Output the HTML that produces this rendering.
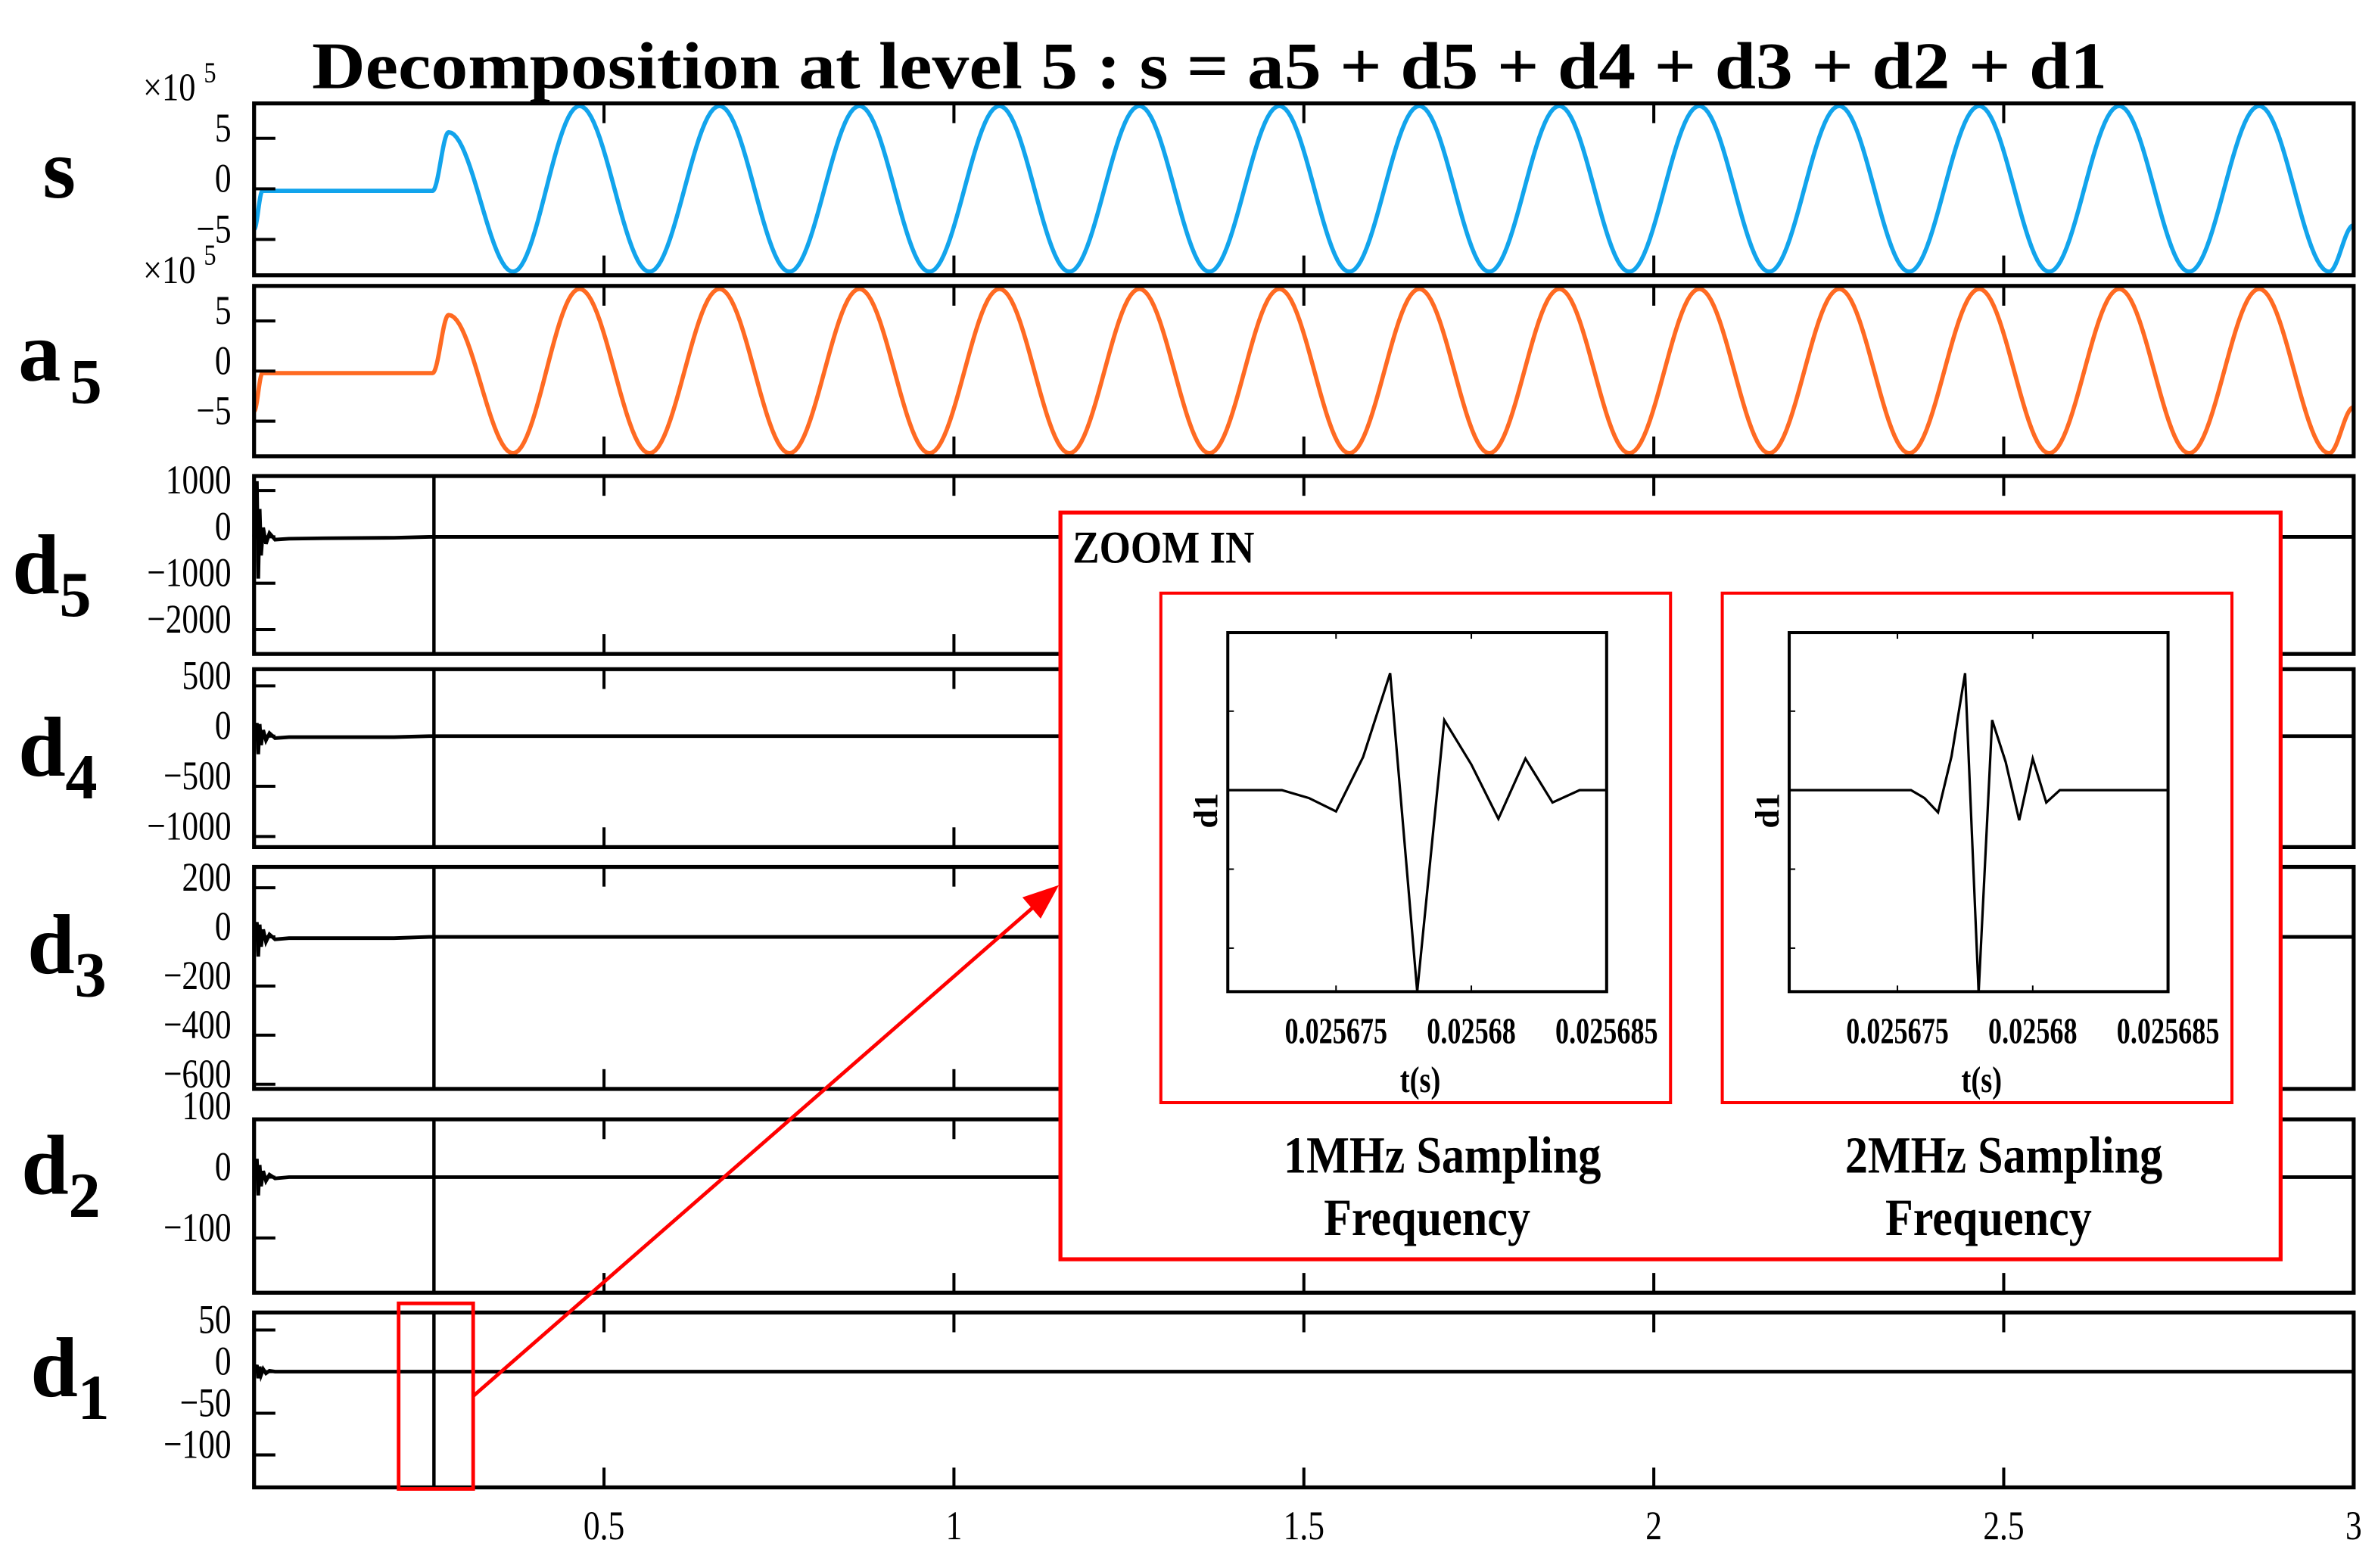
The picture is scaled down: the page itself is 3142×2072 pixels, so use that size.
<!DOCTYPE html>
<html><head><meta charset="utf-8"><style>
html,body{margin:0;padding:0;background:#fff;}
svg{display:block;}
text{font-family:"Liberation Serif",serif;}
</style></head><body>
<svg id="chart" xmlns="http://www.w3.org/2000/svg" width="3142" height="2072" viewBox="0 0 1563 1031" preserveAspectRatio="none">
<text x="205" y="58" font-family="Liberation Serif, serif" font-size="44" font-weight="bold" textLength="1180" lengthAdjust="spacingAndGlyphs">Decomposition at level 5 : s = a5 + d5 + d4 + d3 + d2 + d1</text>
<g id="panels"></g>
<g id="zoom"></g>
</svg>
<script>
// ---------- data ----------
const xTickVals = [0.5, 1, 1.5, 2, 2.5, 3];
const xTickLabels = ["0.5", "1", "1.5", "2", "2.5", "3"];
const sTimes = [0,0.012,0.255,0.278,0.37,0.465,0.565,0.665,0.765,0.865,0.965,1.065,1.165,1.265,1.365,1.465,1.565,1.665,1.765,1.865,1.965,2.065,2.165,2.265,2.365,2.465,2.565,2.665,2.765,2.865,2.965,3];
const sVals = [-4,-0.2,-0.2,5.6,-8.2,8.2,-8.2,8.2,-8.2,8.2,-8.2,8.2,-8.2,8.2,-8.2,8.2,-8.2,8.2,-8.2,8.2,-8.2,8.2,-8.2,8.2,-8.2,8.2,-8.2,8.2,-8.2,8.2,-8.2,-3.6];
const a5Times = [0,0.012,0.255,0.278,0.37,0.465,0.565,0.665,0.765,0.865,0.965,1.065,1.165,1.265,1.365,1.465,1.565,1.665,1.765,1.865,1.965,2.065,2.165,2.265,2.365,2.465,2.565,2.665,2.765,2.865,2.965,3];
const a5Vals = [-4,-0.2,-0.2,5.6,-8.2,8.2,-8.2,8.2,-8.2,8.2,-8.2,8.2,-8.2,8.2,-8.2,8.2,-8.2,8.2,-8.2,8.2,-8.2,8.2,-8.2,8.2,-8.2,8.2,-8.2,8.2,-8.2,8.2,-8.2,-3.6];
const sTicks = [5, 0, -5];
const d5Ticks = [1000, 0, -1000, -2000];
const d4Ticks = [500, 0, -500, -1000];
const d3Ticks = [200, 0, -200, -400, -600];
const d2Ticks = [100, 0, -100];
const d1Ticks = [50, 0, -50, -100];
const burstTimes = [0, 0.004, 0.006, 0.008, 0.010, 0.013, 0.017, 0.022, 0.03, 0.05, 0.1, 0.2, 0.25, 3];
const d5Burst = [0, 1200, -900, 600, -400, 200, -150, 80, -60, -40, -30, -20, 0, 0];
const d4Burst = [0, 130, -180, 120, -90, 60, -40, 30, -20, -10, -10, -10, 0, 0];
const d3Burst = [0, 60, -80, 50, -40, 30, -20, 10, -10, -5, -5, -5, 0, 0];
const d2Burst = [0, 30, -30, 20, -15, 10, -6, 4, -2, 0, 0, 0, 0, 0];
const d1Burst = [0, 8, -8, 6, -4, 3, -2, 1, 0, 0, 0, 0, 0, 0];
const faultTime = 0.257;
// zoom-in insets
const z1Times = [0.025671, 0.025673, 0.025674, 0.025675, 0.025676, 0.025677, 0.025678, 0.025679, 0.02568, 0.025681, 0.025682, 0.025683, 0.025684, 0.025685];
const z1Vals = [0, 0, -16, -43, 67, 237, -408, 142, 52, -58, 64, -25, 0, 0];
const z2Times = [0.025671, 0.0256755, 0.025676, 0.0256765, 0.025677, 0.0256775, 0.025678, 0.0256785, 0.025679, 0.0256795, 0.02568, 0.0256805, 0.025681, 0.025685];
const z2Vals = [0, 0, -16, -45, 69, 237, -410, 142, 57, -61, 64, -25, 0, 0];
const zTickVals = [0.025675, 0.02568, 0.025685];
const zTickLabels = ["0.025675", "0.02568", "0.025685"];
const zYTicks = [160, -160, -320];

// ---------- helpers ----------
const NS = "http://www.w3.org/2000/svg";
function mk(tag, attrs, parent) {
  const e = document.createElementNS(NS, tag);
  for (const k in attrs) e.setAttribute(k, attrs[k]);
  parent.appendChild(e);
  return e;
}
const X0 = 167, X1 = 1547;
const xScale = t => X0 + (t / 3) * (X1 - X0);
const panelsG = document.getElementById("panels");

function yScaleOf(p) { return v => p.top + (p.dmax - v) / (p.dmax - p.dmin) * (p.bot - p.top); }

function easedPath(times, vals, ys) {
  let d = "M" + xScale(times[0]).toFixed(2) + "," + ys(vals[0]).toFixed(2);
  for (let i = 0; i < times.length - 1; i++) {
    const n = 24;
    for (let k = 1; k <= n; k++) {
      const u = k / n;
      const t = times[i] + (times[i + 1] - times[i]) * u;
      const w = (1 - Math.cos(Math.PI * u)) / 2;
      const v = vals[i] + (vals[i + 1] - vals[i]) * w;
      d += "L" + xScale(t).toFixed(2) + "," + ys(v).toFixed(2);
    }
  }
  return d;
}
function linePath(times, vals, xs, ys) {
  return times.map((t, i) => (i ? "L" : "M") + xs(t).toFixed(2) + "," + ys(vals[i]).toFixed(2)).join("");
}
function ctext(parent, x, y, str, size, anchor, sx, bold) {
  const a = {x: 0, y: 0, "font-size": size, "text-anchor": anchor, transform: `translate(${x},${y}) scale(${sx},1)`};
  if (bold) a["font-weight"] = "bold";
  const t = mk("text", a, parent);
  t.textContent = str;
  return t;
}

const panels = [
  {id: "s", top: 68, bot: 181, dmax: 8.45, dmin: -8.55, ticks: sTicks, times: sTimes, vals: sVals, color: "#12a4ec", scale: true, label: "s", sub: "", ly: 130, lx: 28},
  {id: "a5", top: 188, bot: 300, dmax: 8.5, dmin: -8.5, ticks: sTicks, times: a5Times, vals: a5Vals, color: "#ff6a22", scale: true, label: "a", sub: "5", ly: 250, lx: 12},
  {id: "d5", top: 313, bot: 430, dmax: 1311, dmin: -2525, ticks: d5Ticks, burst: d5Burst, label: "d", sub: "5", ly: 390, lx: 8},
  {id: "d4", top: 440, bot: 557, dmax: 667, dmin: -1106, ticks: d4Ticks, burst: d4Burst, label: "d", sub: "4", ly: 510, lx: 12},
  {id: "d3", top: 570, bot: 716, dmax: 285, dmin: -619, ticks: d3Ticks, burst: d3Burst, label: "d", sub: "3", ly: 640, lx: 18},
  {id: "d2", top: 736, bot: 850, dmax: 95, dmin: -190, ticks: d2Ticks, burst: d2Burst, label: "d", sub: "2", ly: 785, lx: 14},
  {id: "d1", top: 863, bot: 978, dmax: 71, dmin: -139, ticks: d1Ticks, burst: d1Burst, label: "d", sub: "1", ly: 918, lx: 20}
];

panels.forEach(p => {
  const g = mk("g", {}, panelsG);
  
  
  const ys = yScaleOf(p);
  if (p.times) {
    const path = mk("path", {d: easedPath(p.times, p.vals, ys), fill: "none", stroke: p.color, "stroke-width": 2.8, "stroke-linejoin": "round"}, g);
    
    
  } else {
    const bl = mk("path", {d: linePath(burstTimes, p.burst, xScale, ys), fill: "none", stroke: "#000", "stroke-width": 2.4}, g);
    
    
    const sp = mk("line", {x1: xScale(faultTime), x2: xScale(faultTime), y1: ys(p.dmax), y2: ys(p.dmin), stroke: "#000", "stroke-width": 2.2}, g);
    
    
  }
  const fr = mk("rect", {x: X0, y: p.top, width: X1 - X0, height: p.bot - p.top, fill: "none", stroke: "#000", "stroke-width": 2.6}, g);
  
  
  xTickVals.forEach(t => {
    const x = xScale(t);
    const a = mk("line", {x1: x, x2: x, y1: p.top, y2: p.top + 13, stroke: "#000", "stroke-width": 2}, g);
    
    
    const b = mk("line", {x1: x, x2: x, y1: p.bot, y2: p.bot - 13, stroke: "#000", "stroke-width": 2}, g);
    
    
  });
  p.ticks.forEach(v => {
    const y = ys(v);
    if (y >= p.top - 1 && y <= p.bot + 1) {
      const tk = mk("line", {x1: X0, x2: X0 + 14, y1: y, y2: y, stroke: "#000", "stroke-width": 2}, g);
      
      
    }
    const tx = ctext(g, 152, y + 2, (v < 0 ? "\u2212" + Math.abs(v) : String(v)), 27, "end", 0.8, false);
    
    
  });
  if (p.scale) {
    const sc = ctext(g, 94, p.top - 2, "\u00d710", 26, "start", 0.85, false);
    
    
    const sup = ctext(g, 134, p.top - 14, "5", 19, "start", 0.85, false);
    
    
  }
  const lab = mk("text", {x: p.lx, y: p.ly, "font-size": 56, "font-weight": "bold"}, g);
  lab.textContent = p.label;
  
  
  if (p.sub) {
    const sb = mk("text", {x: p.lx + (p.label === "a" ? 34 : 31), y: p.ly + 15, "font-size": 42, "font-weight": "bold"}, g);
    sb.textContent = p.sub;
    
    
  }
});
xTickVals.forEach((t, i) => {
  const tx = ctext(panelsG, xScale(t), 1012, xTickLabels[i], 27, "middle", 0.8, false);
  
  
});

// ---------- zoom annotation ----------
const zg = document.getElementById("zoom");
const selBox = mk("rect", {x: 262, y: 857, width: 49, height: 122, fill: "none", stroke: "#f00", "stroke-width": 2.4}, zg);


const arr = mk("line", {x1: 311, y1: 918, x2: 682, y2: 594, stroke: "#f00", "stroke-width": 2.4}, zg);


const head = mk("polygon", {points: "696,582 672,590 684,604", fill: "#f00"}, zg);


const zbox = mk("rect", {x: 697, y: 337, width: 802, height: 491, fill: "#fff", stroke: "#f00", "stroke-width": 2.6}, zg);


const zt = ctext(zg, 705, 370, "ZOOM IN", 30, "start", 0.88, true);



function inset(ox, times, vals, name, cap) {
  const g = mk("g", {}, zg);
  
  
  const box = mk("rect", {x: ox, y: 390, width: 335, height: 335, fill: "none", stroke: "#f00", "stroke-width": 2}, g);
  
  
  const L = ox + 44, R = ox + 293, T = 416, B = 652;
  const xmin = 0.025671, xmax = 0.025685, ymin = -408, ymax = 319;
  const xs = t => L + (t - xmin) / (xmax - xmin) * (R - L);
  const ys = v => T + (ymax - v) / (ymax - ymin) * (B - T);
  const ln = mk("path", {d: linePath(times, vals, xs, ys), fill: "none", stroke: "#000", "stroke-width": 1.6, "stroke-linejoin": "miter"}, g);
  
  
  const fr = mk("path", {d: `M${L},${T}H${R}V${B}H${L}Z`, fill: "none", stroke: "#000", "stroke-width": 2}, g);
  
  
  zTickVals.forEach((t, i) => {
    const x = xs(t);
    const tk = mk("line", {x1: x, x2: x, y1: B, y2: B - 4, stroke: "#000", "stroke-width": 1}, g);
    
    
    const tk2 = mk("line", {x1: x, x2: x, y1: T, y2: T + 4, stroke: "#000", "stroke-width": 1}, g);
    
    
    const tx = ctext(g, x, 686, zTickLabels[i], 24, "middle", 0.75, true);
    
    
  });
  zYTicks.forEach(v => {
    const tk = mk("line", {x1: L, x2: L + 4, y1: ys(v), y2: ys(v), stroke: "#000", "stroke-width": 1}, g);
    
    
  });
  const xl = ctext(g, (L + R) / 2 + 2, 718, "t(s)", 24, "middle", 0.8, true);
  
  
  const yl = mk("text", {x: 0, y: 0, "font-size": 22, "font-weight": "bold", "text-anchor": "middle", transform: `translate(${ox + 37},${533}) rotate(-90)`}, g);
  yl.textContent = "d1";
  
  
  const c1 = ctext(g, ox + 185, 771, cap, 34, "middle", 0.88, true);
  
  
  const c2 = ctext(g, ox + 175, 812, "Frequency", 34, "middle", 0.88, true);
  
  
}
inset(763, z1Times, z1Vals, "inset-1mhz", "1MHz Sampling");
inset(1132, z2Times, z2Vals, "inset-2mhz", "2MHz Sampling");
</script>
</body></html>
